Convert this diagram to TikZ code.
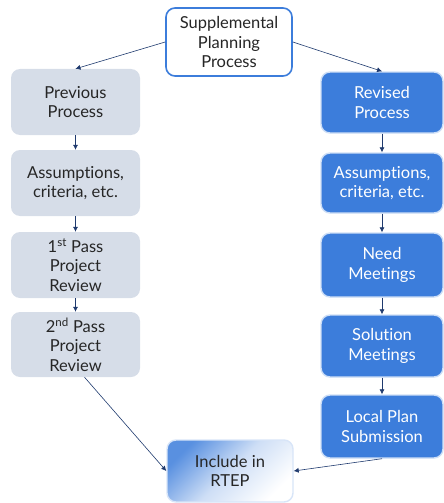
\documentclass[tikz,border=0pt]{standalone}
\usepackage{fontspec}
\setmainfont{Lato}[Ligatures={NoCommon}]
\usetikzlibrary{arrows.meta,positioning}
\definecolor{lgrey}{HTML}{D6DDE8}
\definecolor{rblue}{HTML}{3C7DDB}
\definecolor{navy}{HTML}{1F3A6E}
\definecolor{tdark}{HTML}{262626}
\definecolor{tblue}{HTML}{3C7DDB}
\tikzset{
  base/.style={rounded corners=9pt, align=center, inner sep=2pt,
    font=\fontsize{16.5}{19.5}\selectfont},
  leftbox/.style={base, fill=lgrey, text=tdark, minimum width=129pt},
  rightbox/.style={base, fill=rblue, draw=rblue!25!white, line width=1.4pt, text=white, minimum width=122pt},
  topbox/.style={base, fill=white, draw=tblue, line width=1.6pt, text=tdark, minimum width=126pt, minimum height=68pt},
  incbox/.style={base, draw=rblue!20!white, line width=1.4pt, text=tdark, minimum width=126pt, minimum height=62pt,
    top color=rblue!85!white, bottom color=white, middle color=rblue!25!white, shading angle=45},
  conn/.style={draw=navy, line width=0.6pt, -{Latex[length=5pt,width=5pt]}}
}
\begin{document}
\begin{tikzpicture}[x=1pt,y=-1pt]
\useasboundingbox (0,0) rectangle (444,503);
\node[topbox] (top) at (229,42) {Supplemental\\Planning\\Process};
\node[leftbox, minimum height=66pt] (prev) at (75.5,102) {Previous\\Process};
\node[leftbox, minimum height=66pt] (la) at (75.5,183) {Assumptions,\\criteria, etc.};
\node[leftbox, minimum height=66pt] (p1) at (75.5,265) {1\textsuperscript{st} Pass\\Project\\Review};
\node[leftbox, minimum height=65pt] (p2) at (75.5,344.5) {2\textsuperscript{nd} Pass\\Project\\Review};
\node[rightbox, minimum height=61pt] (rev) at (382,102.5) {Revised\\Process};
\node[rightbox, minimum height=60pt] (ra) at (382,183) {Assumptions,\\criteria, etc.};
\node[rightbox, minimum height=64pt] (need) at (382,265) {Need\\Meetings};
\node[rightbox, minimum height=62pt] (sol) at (382,346) {Solution\\Meetings};
\node[rightbox, minimum height=63pt] (loc) at (382,426.5) {Local Plan\\Submission};
\node[incbox] (inc) at (230,471) {Include in\\RTEP};
\coordinate (p2out) at ([xshift=9pt]p2.south);
\draw[conn] (top.west) -- (prev.north);
\draw[conn] (top.east) -- (rev.north);
\draw[conn] (prev) -- (la);
\draw[conn] (la) -- (p1);
\draw[conn] (p1) -- (p2);
\draw[conn] (rev) -- (ra);
\draw[conn] (ra) -- (need);
\draw[conn] (need) -- (sol);
\draw[conn] (sol) -- (loc);
\draw[conn] (p2out) -- (inc.west);
\draw[conn] (loc.south) -- (inc.east);
\end{tikzpicture}
\end{document}
